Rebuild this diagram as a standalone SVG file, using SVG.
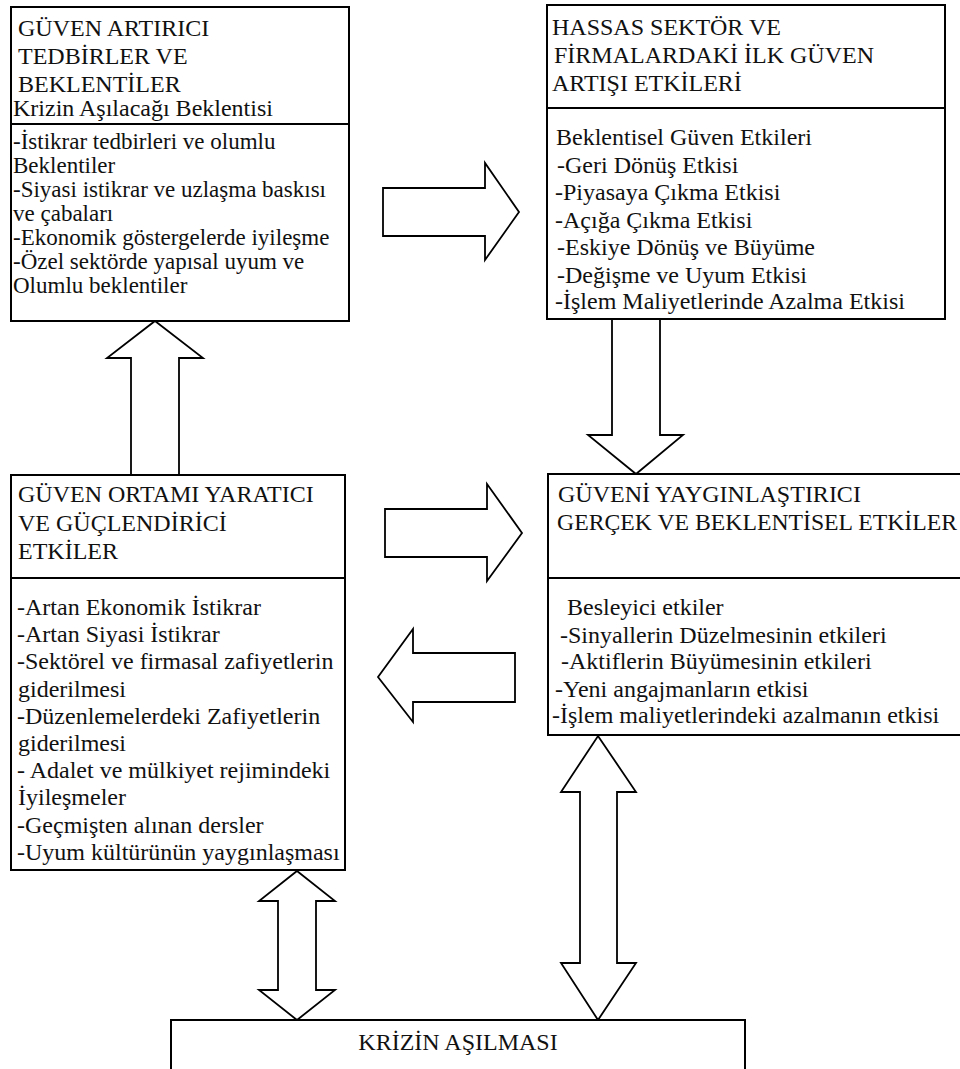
<svg xmlns="http://www.w3.org/2000/svg" width="960" height="1069" viewBox="0 0 960 1069">
<style>
.box{fill:#fff;stroke:#000;stroke-width:2}
.div{stroke:#000;stroke-width:2}
.arr{fill:#fff;stroke:#000;stroke-width:1.8;stroke-linejoin:miter}
text{font-family:"Liberation Serif","Times New Roman",serif;font-size:24px;fill:#111}
.tight{font-size:23px}
</style>
<rect width="960" height="1069" fill="#fff"/>
<g id="connectors">
<polygon class="arr" points="383,188 485,188 485,163 519,212 485,260 485,236 383,236"/>
<polygon class="arr" points="612,319 660,319 660,435 683,435 636,474 588,435 612,435"/>
<polygon class="arr" points="155,321 203,358 179,358 179,475 131,475 131,358 107,358"/>
<polygon class="arr" points="385,509 487,509 487,484 522,533 487,581 487,557 385,557"/>
<polygon class="arr" points="378,677 413,629 413,653 515,653 515,702 413,702 413,722"/>
<polygon class="arr" points="297,871 335,901 316,901 316,990 335,990 297,1020 259,990 278,990 278,901 259,901"/>
<polygon class="arr" points="598,736 636,792 617,792 617,963 636,963 598,1020 561,963 580,963 580,792 561,792"/>
</g>
<g id="node-guven-artirici">
<rect class="box" x="11" y="7" width="338" height="314"/>
<line class="div" x1="11" y1="124" x2="349" y2="124"/>
<text x="18" y="36">GÜVEN ARTIRICI</text>
<text x="18" y="64">TEDBİRLER VE</text>
<text x="18" y="92">BEKLENTİLER</text>
<text x="13" y="116">Krizin Aşılacağı Beklentisi</text>
<text class="tight" x="13" y="149">-İstikrar tedbirleri ve olumlu</text>
<text class="tight" x="13" y="173">Beklentiler</text>
<text class="tight" x="13" y="197">-Siyasi istikrar ve uzlaşma baskısı</text>
<text class="tight" x="13" y="221">ve çabaları</text>
<text class="tight" x="13" y="245">-Ekonomik göstergelerde iyileşme</text>
<text class="tight" x="13" y="269">-Özel sektörde yapısal uyum ve</text>
<text class="tight" x="13" y="293">Olumlu beklentiler</text>
</g>
<g id="node-hassas-sektor">
<rect class="box" x="547" y="5" width="398" height="314"/>
<line class="div" x1="547" y1="108" x2="945" y2="108"/>
<text x="552" y="35">HASSAS SEKTÖR VE</text>
<text x="554" y="63">FİRMALARDAKİ İLK GÜVEN</text>
<text x="552" y="91">ARTIŞI ETKİLERİ</text>
<text x="556" y="145">Beklentisel Güven Etkileri</text>
<text x="557" y="173">-Geri Dönüş Etkisi</text>
<text x="555" y="200">-Piyasaya Çıkma Etkisi</text>
<text x="555" y="228">-Açığa Çıkma Etkisi</text>
<text x="557" y="255">-Eskiye Dönüş ve Büyüme</text>
<text x="557" y="283">-Değişme ve Uyum Etkisi</text>
<text x="555" y="309">-İşlem Maliyetlerinde Azalma Etkisi</text>
</g>
<g id="node-guven-ortami">
<rect class="box" x="11" y="475" width="334" height="395"/>
<line class="div" x1="11" y1="578" x2="345" y2="578"/>
<text x="18" y="502">GÜVEN ORTAMI YARATICI</text>
<text x="18" y="531">VE GÜÇLENDİRİCİ</text>
<text x="18" y="559">ETKİLER</text>
<text x="17" y="615">-Artan Ekonomik İstikrar</text>
<text x="17" y="642">-Artan Siyasi İstikrar</text>
<text x="17" y="669">-Sektörel ve firmasal zafiyetlerin</text>
<text x="18" y="697">giderilmesi</text>
<text x="17" y="724">-Düzenlemelerdeki Zafiyetlerin</text>
<text x="18" y="751">giderilmesi</text>
<text x="17" y="778">- Adalet ve mülkiyet rejimindeki</text>
<text x="18" y="805">İyileşmeler</text>
<text x="17" y="833">-Geçmişten alınan dersler</text>
<text x="17" y="860">-Uyum kültürünün yaygınlaşması</text>
</g>
<g id="node-guveni-yayginlastirici">
<rect class="box" x="548" y="474" width="430" height="261"/>
<line class="div" x1="548" y1="578" x2="978" y2="578"/>
<text x="558" y="502">GÜVENİ YAYGINLAŞTIRICI</text>
<text x="557" y="530" textLength="400" lengthAdjust="spacingAndGlyphs">GERÇEK VE BEKLENTİSEL ETKİLER</text>
<text x="567" y="615">Besleyici etkiler</text>
<text x="560" y="643">-Sinyallerin Düzelmesinin etkileri</text>
<text x="561" y="669">-Aktiflerin Büyümesinin etkileri</text>
<text x="555" y="697">-Yeni angajmanların etkisi</text>
<text x="552" y="723">-İşlem maliyetlerindeki azalmanın etkisi</text>
</g>
<g id="node-krizin-asilmasi">
<rect class="box" x="171" y="1020" width="574" height="70"/>
<text x="458" y="1050" text-anchor="middle">KRİZİN AŞILMASI</text>
</g>
</svg>
